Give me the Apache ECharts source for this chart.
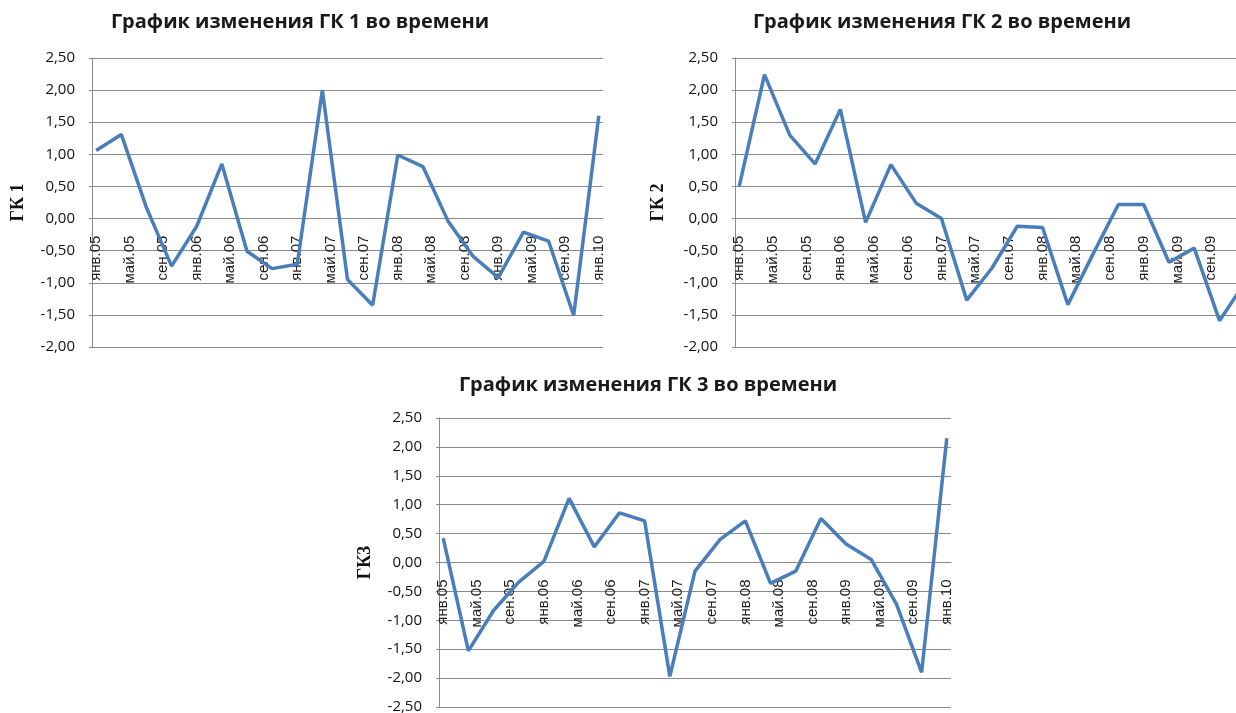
<!DOCTYPE html>
<html>
<head>
<meta charset="utf-8">
<script src="https://cdn.jsdelivr.net/npm/echarts@6/dist/echarts.min.js"></script>
<style>
  html, body { margin: 0; padding: 0; background: #fff; }
  #chart { width: 1236px; height: 713px; }
</style>
</head>
<body>
<div id="chart"></div>
<script>
// подписи оси X (каждые 4 месяца)
const tickLabels = ['янв.05', 'май.05', 'сен.05', 'янв.06', 'май.06', 'сен.06', 'янв.07', 'май.07',
  'сен.07', 'янв.08', 'май.08', 'сен.08', 'янв.09', 'май.09', 'сен.09', 'янв.10'];

// квартальные значения главных компонент, янв.05 .. янв.10
const gk1 = [1.06, 1.31, 0.17, -0.74, -0.12, 0.85, -0.51, -0.78, -0.71, 2.00, -0.95,
  -1.35, 0.99, 0.81, -0.04, -0.59, -0.92, -0.21, -0.35, -1.51, 1.60];
const gk2 = [0.50, 2.24, 1.30, 0.85, 1.70, -0.06, 0.84, 0.24, 0.00, -1.27, -0.77,
  -0.12, -0.14, -1.34, -0.55, 0.22, 0.22, -0.68, -0.46, -1.59, -1.00];
const gk3 = [0.42, -1.53, -0.83, -0.34, 0.02, 1.11, 0.27, 0.86, 0.72, -1.97, -0.15,
  0.40, 0.72, -0.36, -0.15, 0.76, 0.32, 0.05, -0.72, -1.90, 2.15];

// ось по месяцам: 61 месяц, точки каждый 3-й месяц
const months = [];
for (let i = 0; i <= 60; i++) months.push(i % 4 === 0 ? tickLabels[i / 4] : '');
const toMonthly = arr => months.map((m, i) => (i % 3 === 0 ? arr[i / 3] : null));

const gridColor = '#8a8a8a';
const lineColor = '#4a7ebb';
// второй график в оригинале обрезан справа краем картинки
const grids = [
  { left: 92, top: 58, width: 511, height: 289, outerBoundsMode: 'none' },
  { left: 735, top: 58, width: 514, height: 289, outerBoundsMode: 'none' },
  { left: 439, top: 418, width: 512, height: 289, outerBoundsMode: 'none' }
];
const yMin = [-2, -2, -2.5];
const yMax = 2.5;

// ось X проходит через ноль, сдвигаем её вверх от низа сетки
function xAxis(idx) {
  const shift = grids[idx].height * (0 - yMin[idx]) / (yMax - yMin[idx]);
  return {
    type: 'category',
    gridIndex: idx,
    data: months,
    boundaryGap: true,
    offset: -shift,
    axisLine: { onZero: false, lineStyle: { color: gridColor, width: 1 } },
    axisTick: { show: false },
    axisLabel: {
      interval: 0,
      rotate: 90,
      margin: 17,
      fontFamily: 'Liberation Sans',
      fontSize: 15,
      color: '#1a1a1a'
    }
  };
}

function yAxis(idx, name, gap) {
  return {
    type: 'value',
    gridIndex: idx,
    min: yMin[idx],
    max: yMax,
    interval: 0.5,
    name: name,
    nameLocation: 'middle',
    nameGap: gap,
    nameTextStyle: {
      fontFamily: 'Liberation Serif',
      fontWeight: 'bold',
      fontSize: 18,
      color: '#111'
    },
    axisLine: { show: true, lineStyle: { color: gridColor } },
    axisTick: { show: true, length: 3, lineStyle: { color: gridColor } },
    splitLine: { lineStyle: { color: gridColor, width: 1 } },
    axisLabel: {
      margin: 17,
      fontFamily: 'Open Sans',
      fontSize: 15,
      color: '#111',
      formatter: v => v.toFixed(2).replace('.', ',')
    }
  };
}

function series(idx, data) {
  return {
    type: 'line',
    xAxisIndex: idx,
    yAxisIndex: idx,
    data: toMonthly(data),
    connectNulls: true,
    symbol: 'none',
    lineStyle: { color: lineColor, width: 3.5 }
  };
}

function title(text, x, y) {
  return {
    text: text,
    left: x,
    top: y,
    textAlign: 'center',
    padding: 0,
    textStyle: {
      fontFamily: 'Open Sans',
      fontWeight: 'bold',
      fontSize: 20,
      color: '#1a1a1a'
    }
  };
}

const myChart = echarts.init(document.getElementById('chart'));
const option = {
  animation: false,
  backgroundColor: '#fff',
  title: [
    title('График изменения ГК 1 во времени', 300, 12),
    title('График изменения ГК 2 во времени', 942, 12),
    title('График изменения ГК 3 во времени', 648, 375)
  ],
  grid: grids,
  xAxis: [xAxis(0), xAxis(1), xAxis(2)],
  yAxis: [yAxis(0, 'ГК 1', 65), yAxis(1, 'ГК 2', 68), yAxis(2, 'ГК3', 65)],
  series: [series(0, gk1), series(1, gk2), series(2, gk3)]
};
myChart.setOption(option, true);
</script>
</body>
</html>
